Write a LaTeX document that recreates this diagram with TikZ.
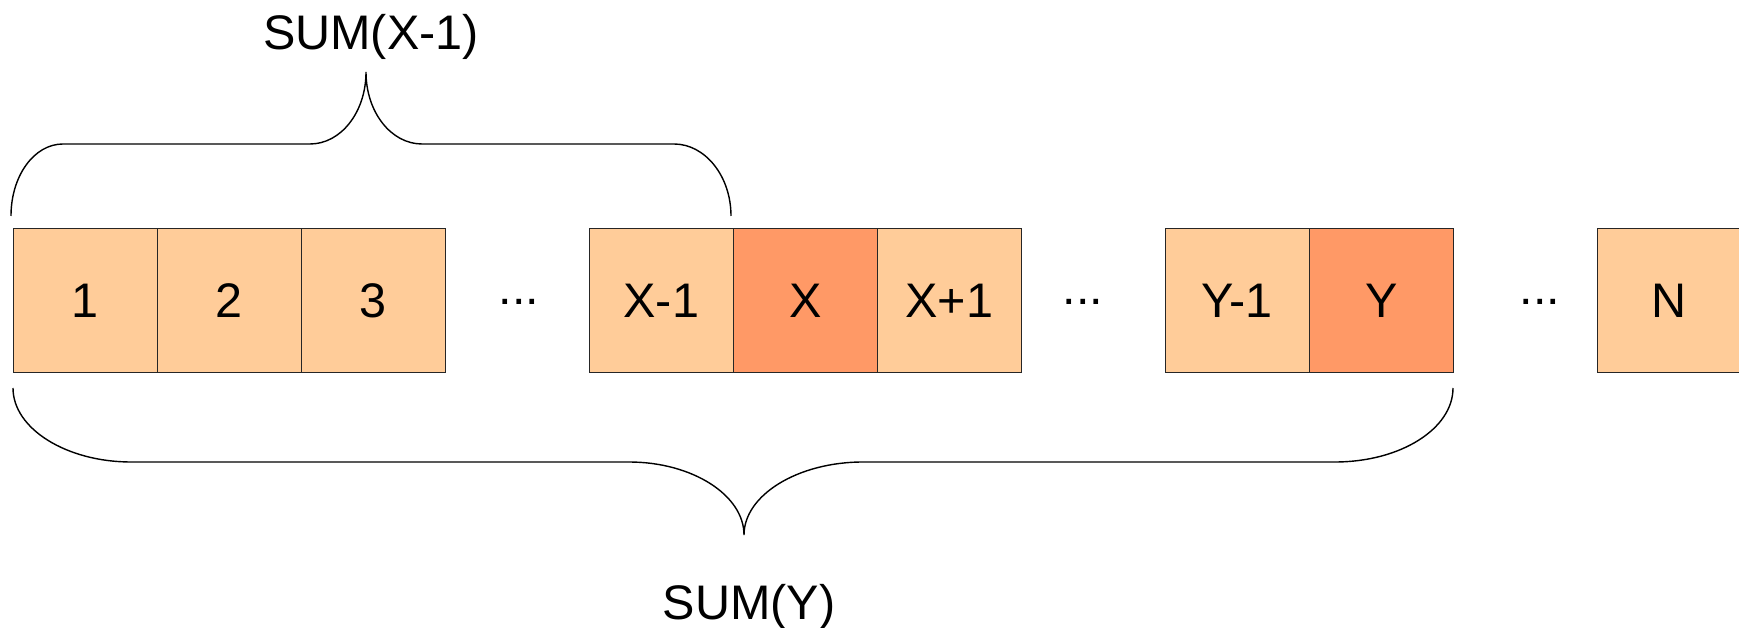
\documentclass[tikz,border=0pt]{standalone}
\usepackage{fontspec}
\setmainfont{Liberation Sans}
\definecolor{cellfill}{HTML}{FFCC99}
\definecolor{hotfill}{HTML}{FF9966}
\tikzset{
    cell/.style={draw=black!85, fill=cellfill, line width=0.4pt, minimum size=1.44cm, inner sep=0pt, font=\fontsize{13.8}{16}\selectfont},
    hotcell/.style={cell, fill=hotfill},
    dots/.style={inner sep=0pt, font=\fontsize{13.8}{16}\selectfont},
    sumlabel/.style={anchor=base, inner sep=0pt, font=\fontsize{13.8}{16}\selectfont},
    brace/.style={draw=black, line width=0.4pt}
}
\begin{document}
\begin{tikzpicture}[x=0.01cm, y=-0.01cm]
        \useasboundingbox (0,0) rectangle (1739,628);

            % Draw the cells
            \node[cell] (c1) at (85.3,300.5) {1};
            \node[cell] (c2) at (229.3,300.5) {2};
            \node[cell] (c3) at (373.3,300.5) {3};

            \node[cell] (xm) at (661.3,300.5) {X-1};
            \node[hotcell] (x) at (805.3,300.5) {X};
            \node[cell] (xp) at (949.3,300.5) {X+1};

            \node[cell] (ym) at (1237.3,300.5) {Y-1};
            \node[hotcell] (y) at (1381.3,300.5) {Y};

            \node[cell] (n) at (1669.3,300.5) {N};

            \node[dots] (d1) at (519,302) {...};
            \node[dots] (d2) at (1083,302) {...};
            \node[dots] (d3) at (1540,302) {...};

            % draw braces
            \draw[brace] (11,216) .. controls (11,176) and (34,144) .. (63,144) -- (310,144)
                .. controls (341,144) and (366,112) .. (366,72)
                .. controls (366,112) and (391,144) .. (422,144) -- (674,144)
                .. controls (705,144) and (731,176) .. (731,216);

            \draw[brace] (13,388) .. controls (13,429) and (67,462) .. (131,462) -- (629,462)
                .. controls (692,462) and (744,495) .. (744,535)
                .. controls (744,495) and (798,462) .. (863,462) -- (1335,462)
                .. controls (1400,462) and (1453,429) .. (1453,388);

            \node[sumlabel] (sx) at (371,50) {SUM(X-1)};
            \node[sumlabel] (sy) at (749,620) {SUM(Y)};
\end{tikzpicture}
\end{document}
